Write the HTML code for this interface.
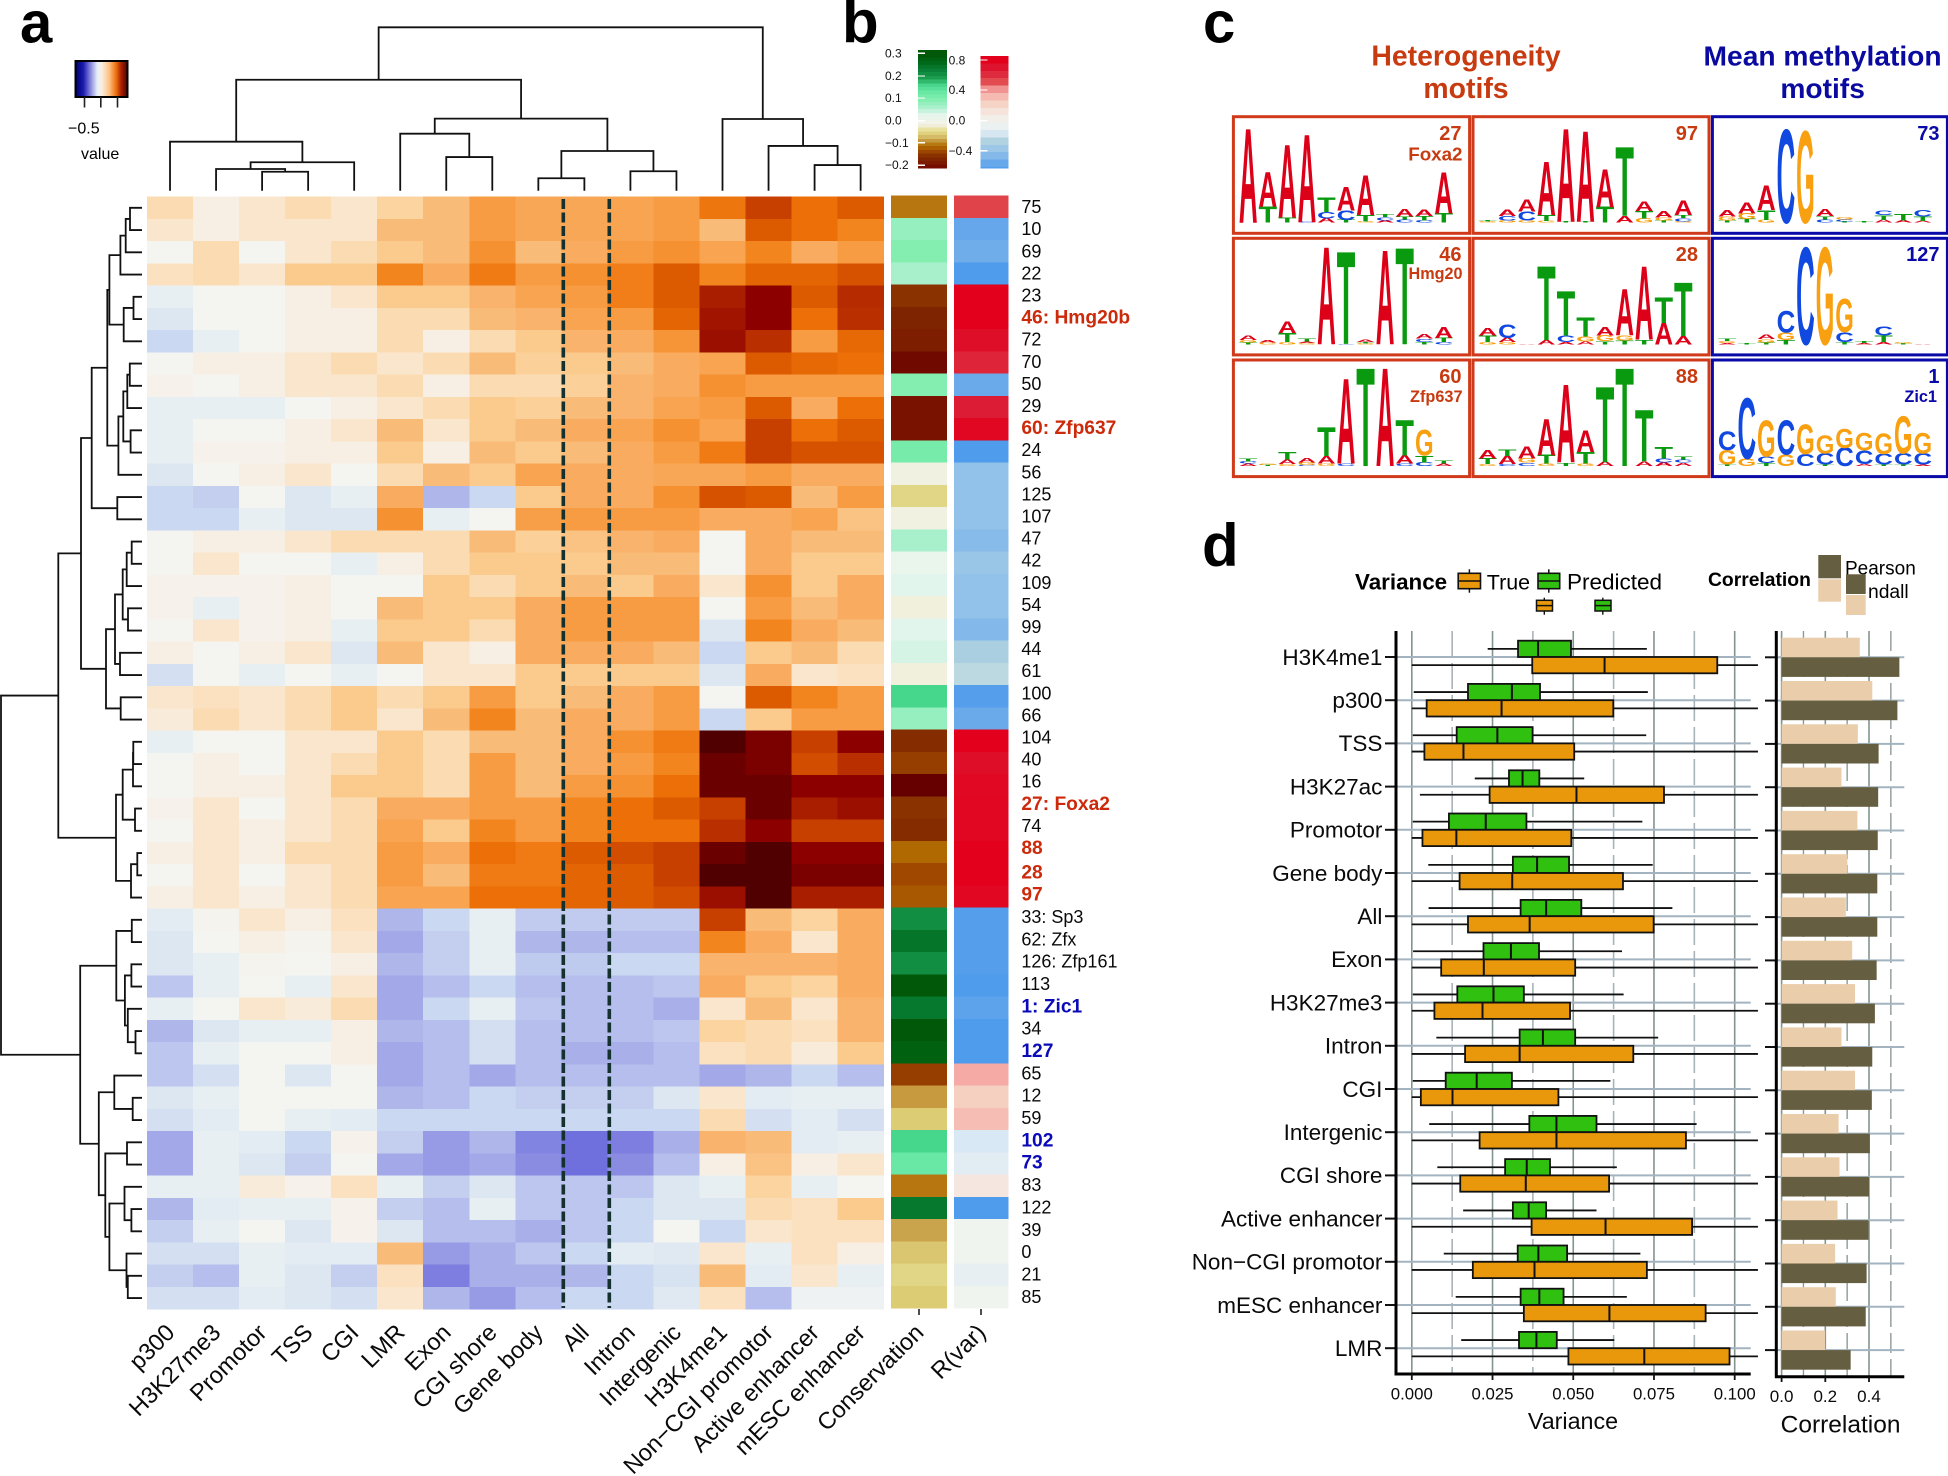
<!DOCTYPE html>
<html lang="en">
<head>
<meta charset="utf-8">
<title>Motif heatmap, sequence logos and variance panels</title>
<style>
html,body{margin:0;padding:0;background:#fff;}
#figure{position:absolute;left:0;top:0;width:1948px;height:1476px;font-family:"Liberation Sans",Arial,sans-serif;}
svg text{font-family:"Liberation Sans",Arial,sans-serif;}
</style>
</head>
<body>
<svg id="figure" xmlns="http://www.w3.org/2000/svg" width="1948" height="1476" viewBox="0 0 1948 1476">
  <rect x="0" y="0" width="1948" height="1476" fill="#ffffff"/>
  <text x="20" y="42.5" font-size="58" font-weight="700">a</text>
  <text x="842" y="42.5" font-size="60" font-weight="700">b</text>
  <text x="1203" y="42.5" font-size="58" font-weight="700">c</text>
  <text x="1202" y="566" font-size="60" font-weight="700">d</text>

  <defs>
    <linearGradient id="valueGradient" x1="0" x2="1" y1="0" y2="0">
      <stop offset="0" stop-color="#00006a"/><stop offset=".15" stop-color="#1a1ab0"/><stop offset=".3" stop-color="#9090e0"/>
      <stop offset=".42" stop-color="#e8f0f5"/><stop offset=".5" stop-color="#f8f0e5"/><stop offset=".65" stop-color="#fcc080"/>
      <stop offset=".78" stop-color="#ee7010"/><stop offset=".88" stop-color="#a82000"/><stop offset="1" stop-color="#500000"/>
    </linearGradient>
    <clipPath id="kendallClip"><rect x="1867" y="575" width="60" height="40"/></clipPath>
  </defs>
  <rect x="75.5" y="61" width="52" height="36" fill="url(#valueGradient)" stroke="#000" stroke-width="2"/>
  <g stroke="#222" stroke-width="1.6">
    <line x1="84.5" x2="84.5" y1="97" y2="107.5"/>
    <line x1="100.8" x2="100.8" y1="97" y2="107.5"/>
    <line x1="117.5" x2="117.5" y1="97" y2="107.5"/>
  </g>
  <text x="68" y="133.5" font-size="16">−0.5</text>
  <text x="81" y="159" font-size="16">value</text>

  <g id="heatmap" shape-rendering="crispEdges"></g>
  <g id="annotBars" shape-rendering="crispEdges"></g>
  <g id="colDendro" fill="none" stroke="#111" stroke-width="1.8"></g>
  <g id="rowDendro" fill="none" stroke="#111" stroke-width="1.8"></g>
  <line x1="563.3" x2="563.3" y1="199" y2="1308" stroke="#14302f" stroke-width="3.6" stroke-dasharray="10 3.5"/>
  <line x1="609.3" x2="609.3" y1="199" y2="1308" stroke="#14302f" stroke-width="3.6" stroke-dasharray="10 3.5"/>
  <g id="rowLabelGroup"></g>
  <g id="colLabelGroup"></g>
  <g id="legendB" shape-rendering="crispEdges"></g>
  <g font-size="12" fill="#111">
    <text x="885" y="57.5">0.3</text>
    <text x="885" y="80">0.2</text>
    <text x="885" y="102">0.1</text>
    <text x="885" y="124.5">0.0</text>
    <text x="885" y="147">−0.1</text>
    <text x="885" y="169">−0.2</text>
    <text x="948.6" y="64.5">0.8</text>
    <text x="948.6" y="94">0.4</text>
    <text x="948.6" y="124.5">0.0</text>
    <text x="948.6" y="155">−0.4</text>
  </g>

  <text x="1466" y="65.5" font-size="28.4" font-weight="700" fill="#c83a10" text-anchor="middle">Heterogeneity</text>
  <text x="1466" y="98" font-size="28.4" font-weight="700" fill="#c83a10" text-anchor="middle">motifs</text>
  <text x="1822.6" y="65.5" font-size="28.2" font-weight="700" fill="#0a0aa0" text-anchor="middle">Mean methylation</text>
  <text x="1822.6" y="98" font-size="28.2" font-weight="700" fill="#0a0aa0" text-anchor="middle">motifs</text>
  <g id="logos"></g>

  <g id="varPanel"></g>
  <g id="corrPanel"></g>

  <g>
    <text x="1355" y="589.5" font-size="22.4" font-weight="700">Variance</text>
    <line x1="1469.4" x2="1469.4" y1="569.3" y2="592.7" stroke="#111" stroke-width="1.5"/>
    <rect x="1458.2" y="573.3" width="22.3" height="15.4" fill="#e8980a" stroke="#111" stroke-width="1.6"/>
    <line x1="1458.2" x2="1480.5" y1="581" y2="581" stroke="#111" stroke-width="1.6"/>
    <text x="1486.8" y="589.5" font-size="21.4">True</text>
    <line x1="1548.8" x2="1548.8" y1="569.3" y2="592.7" stroke="#111" stroke-width="1.5"/>
    <rect x="1538" y="573.3" width="21.7" height="15.4" fill="#2fc010" stroke="#111" stroke-width="1.6"/>
    <line x1="1538" x2="1559.7" y1="581" y2="581" stroke="#111" stroke-width="1.6"/>
    <text x="1567" y="589.5" font-size="22.5">Predicted</text>
    <line x1="1544.3" x2="1544.3" y1="597.7" y2="614.7" stroke="#111" stroke-width="1.4"/>
    <rect x="1536.5" y="600.3" width="16" height="10.7" fill="#e8980a" stroke="#111" stroke-width="1.5"/>
    <line x1="1536.5" x2="1552.5" y1="605.6" y2="605.6" stroke="#111" stroke-width="1.5"/>
    <line x1="1602.8" x2="1602.8" y1="597.7" y2="614.7" stroke="#111" stroke-width="1.4"/>
    <rect x="1595" y="600.3" width="16" height="10.7" fill="#2fc010" stroke="#111" stroke-width="1.5"/>
    <line x1="1595" x2="1611" y1="605.6" y2="605.6" stroke="#111" stroke-width="1.5"/>
  </g>
  <g>
    <text x="1708" y="586" font-size="19.3" font-weight="700">Correlation</text>
    <rect x="1818.3" y="555" width="22.7" height="23.3" fill="#665e40"/>
    <rect x="1818.3" y="579.3" width="22.7" height="22.4" fill="#eacdaa"/>
    <text x="1845" y="574.5" font-size="19">Pearson</text>
    <text x="1844.4" y="598" font-size="19.3" clip-path="url(#kendallClip)">Kendall</text>
    <rect x="1846" y="574.3" width="19.7" height="19.7" fill="#665e40"/>
    <rect x="1846" y="595" width="19.7" height="20" fill="#eacdaa"/>
  </g>
</svg>

<script>
/* ---------- panel a / b data ---------- */
var colNames = ["p300","H3K27me3","Promotor","TSS","CGI","LMR","Exon","CGI shore","Gene body","All","Intron","Intergenic","H3K4me1","Non−CGI promotor","Active enhancer","mESC enhancer"];
var annotNames = ["Conservation","R(var)"];
var rowLabels = ["75","10","69","22","23","46: Hmg20b","72","70","50","29","60: Zfp637","24","56","125","107","47","42","109","54","99","44","61","100","66","104","40","16","27: Foxa2","74","88","28","97","33: Sp3","62: Zfx","126: Zfp161","113","1: Zic1","34","127","65","12","59","102","73","83","122","39","0","21","85"];
var redLabels = ["46: Hmg20b","60: Zfp637","27: Foxa2","88","28","97"];
var blueLabels = ["1: Zic1","127","102","73"];
var heatValues = [
[3,1,2,3,2,3.5,5,7,6.3,6.3,6.5,7,8.7,11,9,10],
[2,1,2,2,2,5,5,7,6.3,6.3,6.5,7,5,10,9,8],
[0,3,0,2,3,4,5,7.5,5,6,7,7.5,6.5,8,6,7],
[2.5,3,2,4,4,8,6,8.5,7,7.5,8.3,10,8,9.5,9.5,10.3],
[-1,0,0,1,2,4,4,5.5,6.5,7,8.3,10,12,13,10,11.6],
[-2,0,0,1,1,3,3,5,5.5,6.5,7,9.5,12.3,13,9,11.5],
[-3,-1,0,1,1,3,1,3,4,5.5,6,7.3,12.5,11.5,7,9.3],
[0,1,1,2,3,2,3,5,3.7,4,5,6,6.5,10,9.3,9],
[0.5,0,1,2,2,3,1,3,3,3.7,5.5,6,7.5,7,7,7],
[-1,-1,-1,0,1,2,3,4,3.7,5,5.5,6.5,7,10,6,9],
[-1,0,0,1,2,5,2,4,5,6,6.5,7.5,6.5,11,9,10],
[-1,0.5,0.5,1,1,4,1,5,4,5,6,7,8.5,11,10.3,10.3],
[-2,0,1,2,0,3,5,4,6.5,6,6,6.3,6.3,7,6,6],
[-3,-3.5,0,-2,-1,6,-5,-3,4,6,6,7.5,10.3,10,5,7],
[-3,-3,-1,-2,-2,7.5,-1,0,6.8,7,7,7,6,6,6.5,4.5],
[0,1,1,2,3,3,3,5,3.7,4.5,5.5,6,0,6,5,5],
[0,2,0,0,-1,1,3,4,4,4,5,5,0,6,4,4],
[0.5,0.5,0.5,1,0,0,4,3,4,5,4,6,2,7.5,4,6],
[0.5,-1,0.5,1,0,5,4,4,6,7,7,7,0,7,5,6],
[0,2,0.5,1,-1,4,4,3,6,7,7,7,-2,8,6,5],
[1,0,1,2,-2,5,2,1,6,6,6,5,-3,4,5,3],
[-2.5,0,-1,0,-1,0,2,2,4,4,4,4,-2,6,2,2.5],
[2,2.5,2,3,4,3,4,7,4,5,6,7,0,10,8,7],
[1.5,3,2,3,4,2,5,8,5,6,6,7,-3,4,7,7],
[-1,0,0,2,2,4,3,5,5,6,7.5,8.5,15,13.5,11,13],
[0,1,0,2,3,4,3,7,5,6,7,8,14,13.5,10.5,11.5],
[0,1,1,2,4,4,3,7,5,7,7.5,9,14,14,13,13],
[0.5,2,0,2,3,6,6,7,7,8,9,10,11,14,12,12.5],
[0,2,1,2,3,6.5,4,8,7,8,9,9,11.5,13,11,11],
[1,2,1,3,3,7,6,9,8.5,10,10.5,11,14,15,13,13],
[0,2,0,2,3,7,5,8.5,8.5,9.5,10,11,15,15,13.5,13.5],
[1,2,1,2,3,6.5,6.5,9,9,9.5,10,10.5,12.5,15,12,12],
[-1.5,0.3,2,1,2.5,-5,-3,-1,-3.7,-3.7,-3.7,-3.7,11,5,3.5,6],
[-2,0,1,0.3,2,-6,-3.5,-1,-5,-5,-4.5,-4.5,8,6,2,6],
[-2,-1,0.3,0,1,-5,-3.5,-1,-3.8,-3.8,-3,-3,5.5,5.5,5.5,6],
[-4,-1,0,-1,2,-6,-4.5,-3,-4.5,-4.5,-4.5,-4,6,4,3.5,6],
[-1,0,2,1.5,3,-6,-3,-1,-4,-4.5,-4.5,-5.5,2,5,2,5.5],
[-5,-2,-1,-1,1,-5,-4.5,-2.5,-4.5,-4.5,-4.5,-4,3.5,3,2.5,5.5],
[-4,-1,0,0,1,-6,-4.5,-2.5,-4.5,-5.5,-5.5,-4.5,2.5,3,1.5,4],
[-4,-2.5,0,-2,0,-6,-4.5,-6,-4.5,-4.5,-4.5,-4.5,-6,-5,-3,-4.5],
[-2,-1,0,0,0,-5,-4.5,-3,-3.5,-3.5,-3.5,-2,2,-1.5,-1,-1],
[-2.5,-1.5,0,-1,-1.5,-3,-3,-3,-3,-3,-3,-3,3,-2.5,-1.5,-2.5],
[-6,-1,-1.5,-3,0.5,-3.5,-6.5,-5,-7.3,-8,-7.5,-5.5,5.5,5,-1.5,-1],
[-6,-1,-2,-3.5,0,-6,-6.5,-6,-7,-8,-7,-4.5,1,4.5,1,2],
[-1,-1,1.5,0.5,2.5,-1,-3.5,-2,-4,-4,-4,-2,-1,3.5,-1,0],
[-5,-1.5,-1,-1,0.5,-3.5,-4.5,-1,-4,-4,-3,-2,-2,3,2.5,4],
[-3.5,-1,0,-2,0.5,-2,-4.5,-4.5,-5.5,-4,-3,0,-3,2,2.5,2.5],
[-2.5,-2.5,-1,-1.5,-1.5,5,-6.5,-5.5,-4,-3,-1.5,-1.7,2,-1,2.5,1],
[-3.5,-4.5,-1,-2,-3.5,2.5,-7.5,-5.5,-5.5,-5,-3,-2.3,5,-1.5,2,-1],
[-2.5,-2.5,-1.5,-2,-2.5,2,-5,-6.5,-4.5,-3,-3,-1.7,2.5,-4.5,-0.5,-0.5]
];
var conservation = [-5.5,2.5,3,2,-8,-9,-9.5,-11,3,-10.5,-10.5,3.5,-0.5,-2.5,-0.5,2,0.5,1,-0.7,1,1.2,-0.7,5,2.5,-8.5,-7.5,-11.5,-8,-8.5,-6,-7,-6.5,6.5,7.5,6.5,9,7.3,9.5,8.5,-7.5,-4.5,-3,5,4,-5.5,7.3,-4.3,-3.2,-2.5,-3];
var rVar = [4,-4.2,-3.9,-5,6,6,5.5,4.8,-4,5,5.8,-5,-3,-3,-3,-3.3,-2.7,-3,-3,-3.4,-2,-1.5,-4.8,-4,6,5.5,5.7,5.8,5.8,6,6,5.8,-4.8,-4.8,-4.8,-5,-4.5,-5,-5,3,2,2.5,-1,-0.7,1,-5,0,0,-0.5,0];

/* Dendrograms: [mergeHeight, childA, childB]; leaves are column / row indices */
var colTree = [1,[.679,[.30,0,[.174,[.133,1,[.116,2,3]],4]],[.441,[.349,5,[.206,6,7]],[.243,[.076,8,9],[.119,10,11]]]],[.439,12,[.274,13,[.157,14,15]]]];
var rowTopA = [.326,[.216,[.163,[.12,0,1],2],3],[.183,[.085,4,5],6]];
var rowTopB = [.236,[.187,[.147,[.122,7,8],9],[.114,10,11]],12];
var rowTopC = [.247,13,14];
var rowMid = [.36,[.27,[.193,[.153,[.103,15,16],17],[.14,18,19]],[.22,20,21]],[.213,22,23]];
var rowHigh = [.26,[.193,[.09,[.087,24,25],26],[.07,27,28]],[.11,[.047,29,30],31]];
var rowLowA = [.257,[.102,32,33],[.171,[.106,34,35],[.142,36,[.065,37,38]]]];
var rowLowB = [.432,[.277,39,[.093,40,41]],[.367,[.15,42,43],[.326,[.175,44,[.106,45,46]],[.155,47,[.142,48,49]]]]];
var rowTree = [1.41,[.837,[.61,[.503,[.347,rowTopA,rowTopB],rowTopC],rowMid],rowHigh],[.618,rowLowA,rowLowB]];

/* ---------- panel c data: each position lists letter, bits from top to bottom ---------- */
var motif27 = [["A",2],["A",.74,"T",.34],["A",1.55,"T",.11],["A",1.86,"C",.02],["T",.32,"C",.14,"A",.09],["A",.51,"C",.2,"T",.06],["A",.85,"T",.14,"G",.03],["T",.07,"C",.07,"A",.05],["A",.16,"T",.06,"C",.07],["A",.13,"T",.09,"C",.05],["A",.87,"T",.2]];
var motif97 = [["T",.03,"G",.03],["A",.13,"C",.09,"G",.05],["A",.26,"C",.19,"G",.05],["A",1.14,"T",.12,"G",.04],["A",1.98,"T",.02],["A",1.93,"T",.02],["A",.8,"T",.34],["T",1.46,"A",.14],["A",.2,"T",.16,"G",.09],["A",.14,"G",.06,"T",.05],["A",.32,"T",.07,"C",.07,"G",.03]];
var motif73 = [["A",.13,"G",.08,"T",.05],["A",.23,"G",.12,"T",.08],["A",.52,"T",.21,"G",.06],["C",1.98],["G",1.95],["A",.15,"T",.07,"C",.07],["G",.05,"C",.04,"T",.03],["T",.02],["C",.1,"T",.1,"A",.06],["T",.13,"A",.05],["C",.13,"T",.09,"A",.04]];
var motif46 = [["A",.09,"G",.05,"T",.04],["A",.05,"G",.04],["A",.24,"T",.19,"G",.05],["T",.07,"A",.03,"G",.03],["A",2.07],["T",1.96,"C",.01],["A",.05,"T",.03,"G",.02],["A",2],["T",2.05],["A",.1,"C",.07,"T",.05],["A",.23,"T",.09,"C",.05]];
var motif28 = [["A",.16,"T",.14,"G",.05],["C",.28,"A",.09,"G",.05],["A",.01],["T",1.58,"A",.09],["T",.95,"C",.14,"A",.05],["T",.41,"G",.11,"A",.06],["A",.18,"G",.12,"T",.07],["A",.98,"G",.11,"T",.08],["A",1.56,"T",.1],["T",.54,"A",.46],["T",1.14,"A",.18]];
var motif127 = [["T",.05,"G",.04,"A",.03],["T",.02],["A",.1,"G",.07,"T",.04],["C",.47,"G",.16,"T",.09],["C",2.06],["G",2.06],["G",.71,"C",.21,"T",.05],["T",.04,"A",.03],["C",.19,"T",.14,"A",.05],["G",.03,"T",.02],["A",.01]];
var motif60 = [["T",.07,"C",.05,"A",.05],["G",.03,"T",.02],["T",.16,"A",.1,"G",.04],["A",.09,"G",.06,"C",.02],["T",.61,"A",.16,"G",.05],["A",1.8,"C",.05],["T",2.08],["A",2.08],["T",.75,"A",.18,"C",.05],["G",.55,"T",.14,"C",.08],["T",.06,"A",.05]];
var motif88 = [["A",.18,"T",.12,"G",.04],["T",.14,"A",.17,"C",.04],["A",.26,"G",.09,"C",.07],["A",.76,"T",.19,"G",.05],["A",1.65,"T",.07],["A",.46,"T",.25,"G",.05],["T",1.6,"A",.09],["T",2.08],["T",1.1,"A",.1],["T",.25,"C",.08,"A",.08],["T",.07,"C",.07,"A",.07]];
var motif1 = [["C",.4,"G",.31,"T",.03],["C",1.28,"G",.16],["G",.76,"C",.14,"T",.06],["C",.73,"G",.25],["G",.63,"C",.26],["G",.38,"C",.24,"T",.03],["G",.41,"C",.39],["G",.37,"C",.29,"A",.04],["G",.43,"C",.23,"T",.03],["G",.79,"C",.24,"T",.03],["G",.43,"C",.24,"A",.03]];
var motifGrid = [motif27,motif97,motif73,motif46,motif28,motif127,motif60,motif88,motif1];
var motifIds = ["27","97","73","46","28","127","60","88","1"];
var motifNames = ["Foxa2","","","Hmg20","","","Zfp637","","Zic1"];

/* ---------- panel d data ---------- */
var varCategories = ["H3K4me1","p300","TSS","H3K27ac","Promotor","Gene body","All","Exon","H3K27me3","Intron","CGI","Intergenic","CGI shore","Active enhancer","Non−CGI promotor","mESC enhancer","LMR"];
var predLow = [.0235,.0006,.0003,.0195,.0003,.0051,.0052,.0004,.0003,.0076,.0003,.0054,.0079,.0159,.0099,.0136,.0153];
var predQ1 = [.0329,.0174,.0139,.0301,.0115,.0313,.0337,.0222,.0141,.0334,.0105,.0364,.0289,.0313,.0328,.0337,.0332];
var predMed = [.0391,.031,.0265,.0343,.0229,.0388,.0416,.0307,.0253,.0406,.0201,.0448,.0356,.0362,.0392,.0395,.0386];
var predQ3 = [.0493,.0397,.0374,.0395,.0355,.0487,.0525,.0394,.0347,.0506,.031,.0572,.0428,.0416,.0481,.047,.0449];
var predHigh = [.0728,.0731,.0726,.0534,.0714,.0746,.0807,.0651,.0656,.0763,.0615,.0882,.0635,.0572,.0708,.0666,.0627];
var trueLow = [0,0,0,.0025,0,0,0,0,0,0,0,0,0,0,0,0,0];
var trueQ1 = [.0373,.0046,.0039,.0241,.0033,.0148,.0174,.0091,.007,.0165,.0028,.021,.015,.0371,.0189,.0347,.0485];
var trueMed = [.0597,.0278,.016,.051,.0138,.0311,.0365,.0223,.0219,.0334,.0126,.0448,.0353,.06,.038,.0612,.072];
var trueQ3 = [.0946,.0624,.0503,.0781,.0494,.0654,.0749,.0506,.049,.0686,.0454,.0849,.0611,.0868,.0728,.091,.0984];
var trueHigh = [.1072,.1072,.1072,.1072,.1072,.1072,.1072,.1072,.1072,.1072,.1072,.1072,.1072,.1072,.1072,.1072,.1072];
var pearson = [.358,.415,.349,.274,.347,.301,.294,.323,.336,.274,.336,.261,.265,.256,.245,.248,.199];
var kendall = [.539,.53,.444,.442,.44,.438,.438,.435,.427,.415,.413,.404,.4,.398,.389,.385,.316];
var varTicks = [0,.025,.05,.075,.1];
var varMinorTicks = [.0125,.0375,.0625,.0875];
var corrTicks = [0,.2,.4];
var corrMinorTicks = [.1,.3,.5];

/* ---------- helpers ---------- */
var NS = "http://www.w3.org/2000/svg";
function mk(tag, parent, attrs) {
  var el = document.createElementNS(NS, tag);
  for (var k in attrs) el.setAttribute(k, attrs[k]);
  parent.appendChild(el);
  return el;
}
function txt(parent, str, x, y, size, attrs) {
  var el = mk("text", parent, attrs || {});
  el.setAttribute("x", x);
  el.setAttribute("y", y);
  el.setAttribute("font-size", size);
  el.textContent = str;
  return el;
}
function hex(c) { return [parseInt(c.substr(1,2),16),parseInt(c.substr(3,2),16),parseInt(c.substr(5,2),16)]; }
function ramp(stops, v) {
  if (v <= stops[0][0]) return stops[0][1];
  for (var i = 1; i < stops.length; i++) {
    if (v <= stops[i][0]) {
      var t = (v - stops[i-1][0]) / (stops[i][0] - stops[i-1][0]);
      var a = hex(stops[i-1][1]), b = hex(stops[i][1]);
      return "rgb(" + Math.round(a[0]+(b[0]-a[0])*t) + "," + Math.round(a[1]+(b[1]-a[1])*t) + "," + Math.round(a[2]+(b[2]-a[2])*t) + ")";
    }
  }
  return stops[stops.length-1][1];
}
var heatScale = [[-8,"#6f70dd"],[-7,"#8a8ce2"],[-6,"#a3a8e8"],[-5,"#aeb6ea"],[-4,"#bcc6ee"],[-3,"#cbd8f1"],[-2,"#dde7f2"],[-1,"#e8eff3"],[0,"#f4f5f1"],[1,"#f8efe4"],[2,"#fae6cd"],[3,"#fbdcb2"],[4,"#fbcb8e"],[5,"#f9bb78"],[6,"#f9ab5f"],[7,"#f79c42"],[8,"#f3851f"],[9,"#ec6f08"],[10,"#dc5a00"],[11,"#c84000"],[12,"#aa1e00"],[13,"#8c0000"],[14,"#6a0000"],[15,"#500000"]];
var consScale = [[-11.5,"#660000"],[-10.5,"#7a1200"],[-9,"#7f2400"],[-8,"#8a3300"],[-7,"#a04800"],[-6,"#b06800"],[-5,"#bd8420"],[-4,"#d0b060"],[-3,"#dccc74"],[-2,"#e6df96"],[-1,"#f0eed8"],[0,"#f2f4ea"],[1,"#e2f5ec"],[2,"#a8f0cc"],[3,"#84eeb0"],[4,"#68e8a4"],[5,"#46d68c"],[6,"#1a9c4c"],[7,"#0a8038"],[8,"#006a1a"],[9,"#005808"]];
var rScale = [[-5,"#4f9bec"],[-4,"#6aaaea"],[-3,"#92c2ea"],[-2,"#aacfe0"],[-1.5,"#bcd8e0"],[-1,"#d8e8f4"],[-0.5,"#e8eff2"],[0,"#eff4ef"],[1,"#f6e6e0"],[2,"#f5cfc0"],[3,"#f5aaa6"],[4,"#e0444a"],[5,"#dc1c34"],[6,"#e2001c"]];

/* ---------- axes for the heatmap ---------- */
var heatLeft = 147, colW = 46.04, heatTop = 196.7, rowH = 22.25;
function colX(i) { return heatLeft + colW * i; }
function rowY(i) { return heatTop + rowH * i; }
function labelY(i) { return i < 30 ? 206.7 + 22.1 * i : 916.6 + 22.34 * (i - 32); }
function colDendroY(h) { return 190.7 - 163.4 * h; }
function rowDendroX(h) { return 142 - 100 * h; }

var heatmapG = document.getElementById("heatmap");
heatValues.forEach(function (row, r) {
  row.forEach(function (v, c) {
    var cell = mk("rect", heatmapG, {x: colX(c), y: rowY(r), width: colW + .5, height: rowH + .5, fill: ramp(heatScale, v)});
    
    
  });
});

var annotG = document.getElementById("annotBars");
conservation.forEach(function (v, r) {
  var cell = mk("rect", annotG, {x: 891, y: rowY(r) - 1, width: 56, height: rowH + .5, fill: ramp(consScale, v)});
  
  
});
rVar.forEach(function (v, r) {
  var cell = mk("rect", annotG, {x: 954, y: rowY(r) - 1, width: 54.6, height: rowH + .5, fill: ramp(rScale, v)});
  
  
});

/* dendrograms */
var colG = document.getElementById("colDendro");
function drawCol(node) {
  if (typeof node === "number") return {p: colX(node) + colW / 2, h: 0};
  var a = drawCol(node[1]), b = drawCol(node[2]), y = colDendroY(node[0]);
  var link = mk("path", colG, {d: "M" + a.p + " " + colDendroY(a.h) + "V" + y + "H" + b.p + "V" + colDendroY(b.h)});
  
  
  return {p: (a.p + b.p) / 2, h: node[0]};
}
drawCol(colTree);
var rowG = document.getElementById("rowDendro");
function drawRow(node) {
  if (typeof node === "number") return {p: rowY(node) + rowH / 2, h: 0};
  var a = drawRow(node[1]), b = drawRow(node[2]), x = rowDendroX(node[0]);
  var link = mk("path", rowG, {d: "M" + rowDendroX(a.h) + " " + a.p + "H" + x + "V" + b.p + "H" + rowDendroX(b.h)});
  
  
  return {p: (a.p + b.p) / 2, h: node[0]};
}
drawRow(rowTree);

/* row labels */
var rowLabelG = document.getElementById("rowLabelGroup");
rowLabels.forEach(function (s, i) {
  var isRed = redLabels.indexOf(s) >= 0, isBlue = blueLabels.indexOf(s) >= 0;
  var fill = isRed ? "#cc2a0a" : isBlue ? "#0a0ab8" : "#0a0a0a";
  var t = txt(rowLabelG, s, 1021.4, labelY(i) + 6.4, (isRed || isBlue) ? 19.2 : 18, {fill: fill, "font-weight": (isRed || isBlue) ? 700 : 400});
  
  
});

/* column labels */
var colLabelG = document.getElementById("colLabelGroup");
function rotatedLabel(s, cx) {
  var ax = cx + 6, ay = 1334;
  var t = txt(colLabelG, s, ax, ay, 23.6, {"text-anchor": "end", fill: "#0a0a0a", transform: "rotate(-45 " + ax + " " + ay + ")"});
  
  
}
colNames.forEach(function (s, i) { rotatedLabel(s, colX(i) + colW / 2); });
var annotCenters = [919, 981];
annotNames.forEach(function (s, i) {
  rotatedLabel(s, annotCenters[i]);
  var tick = mk("line", colLabelG, {x1: annotCenters[i], x2: annotCenters[i], y1: 1309, y2: 1315, stroke: "#222", "stroke-width": 1.6});
  
  
});

/* panel b colour legends, sampled from the colour scales */
var legendG = document.getElementById("legendB");
for (var yy = 50; yy < 168; yy += 3.7) {
  var cv = yy < 120 ? 9.5 * (120 - yy) / 70 : -11.5 * (yy - 120) / 48;
  var band = mk("rect", legendG, {x: 918, y: yy, width: 29, height: Math.min(4, 168.3 - yy), fill: ramp(consScale, cv)});
  
  
}
for (var yr = 56; yr < 168; yr += 7.4) {
  var rv = yr < 120 ? 6 * (120 - yr) / 64 : -5 * (yr - 120) / 48;
  var rband = mk("rect", legendG, {x: 980.4, y: yr, width: 28.2, height: Math.min(7.6, 168.3 - yr), fill: ramp(rScale, rv)});
  
  
}
[52.7,75.3,97.3,120,142,164.7].forEach(function (y) {
  var m = mk("rect", legendG, {x: 918, y: y, width: 7, height: 1.3, fill: "#fff"});
  
  
});
[59.3,89.3,120,150].forEach(function (y) {
  var m = mk("rect", legendG, {x: 980.4, y: y, width: 7, height: 1.3, fill: "#fff"});
  
  
});

/* ---------- panel c: logos ---------- */
var letterColor = {A: "#dc0018", T: "#0a9a10", C: "#1048e0", G: "#f8a010"};
var letterAdvance = {A: .722, T: .611, C: .722, G: .778};
var bitPx = 46.67, logoStep = 19.56, letterW = 18.6;
var logoG = document.getElementById("logos");
var boxLeft = [1233.4, 1473, 1712.4], boxTop = [116.7, 238.3, 360], boxW = [236.2, 236, 235], boxH = 116.6;
var logoBaseline = [222.7, 344.3, 466], logoStart = [1248.2, 1487.7, 1727.2];
var idRight = [1461.5, 1698, 1939.5];
var idCenterY = [132.7, 254, 376];
var nameCenterY = [154.3, 273, 396];
var nameSize = [18.8, 16.2, 16.3];
motifGrid.forEach(function (motif, m) {
  var col = m % 3, row = Math.floor(m / 3);
  var isBlue = col === 2;
  var frame = mk("rect", logoG, {x: boxLeft[col], y: boxTop[row], width: boxW[col], height: boxH, fill: "#fff", stroke: isBlue ? "#0a0aa8" : "#d03a1a", "stroke-width": 3});
  
  
  motif.forEach(function (stack, p) {
    var cx = logoStart[col] + logoStep * p;
    var y = logoBaseline[row];
    for (var k = stack.length - 2; k >= 0; k -= 2) {
      var ch = stack[k], bits = stack[k + 1], hpx = bits * bitPx;
      var sx = letterW / (letterAdvance[ch] * 100), sy = hpx / 68.8;
      var g = txt(logoG, ch, 0, 0, 100, {"font-weight": 700, "text-anchor": "middle", fill: letterColor[ch], transform: "translate(" + cx + " " + y + ") scale(" + sx.toFixed(4) + " " + sy.toFixed(4) + ")"});
      
      
      y -= hpx;
    }
  });
  var labelFill = isBlue ? "#0a0aa8" : "#c83a10";
  var idText = txt(logoG, motifIds[m], idRight[col], idCenterY[row] + 7.2, 20, {"font-weight": 700, "text-anchor": "end", fill: labelFill});
  
  
  if (motifNames[m]) {
    var nameText = txt(logoG, motifNames[m], idRight[col] + 1 - (isBlue ? 3.5 : 0), nameCenterY[row] + 6, nameSize[row], {"font-weight": 700, "text-anchor": "end", fill: labelFill});
    
    
  }
});

/* ---------- panel d ---------- */
function varX(v) { return 1411.8 + v * 3229; }
function varCatY(i) { return 657 + 43.2 * i; }
function corrX(v) { return 1781.6 + v * 218.5; }
function corrCatY(i) { return 657.3 + 43.3 * i; }

var varG = document.getElementById("varPanel");
varMinorTicks.forEach(function (t) {
  var l = mk("line", varG, {x1: varX(t), x2: varX(t), y1: 631, y2: 1374, stroke: "#a8b4b8", "stroke-width": 1.6, "stroke-dasharray": "26 6"});
  
  
});
varTicks.forEach(function (t) {
  var l = mk("line", varG, {x1: varX(t), x2: varX(t), y1: 631, y2: 1374, stroke: "#83948f", "stroke-width": 1.6});
  
  
});
varCategories.forEach(function (c, i) {
  var l = mk("line", varG, {x1: 1396, x2: 1750.7, y1: varCatY(i), y2: varCatY(i), stroke: "#a3b4c0", "stroke-width": 2});
  
  
});
function boxMark(i, low, q1, med, q3, high, top, fill, name) {
  var mid = top + 8.15;
  var wh = mk("line", varG, {x1: varX(low), x2: varX(high), y1: mid, y2: mid, stroke: "#111", "stroke-width": 1.8});
  
  
  var bx = mk("rect", varG, {x: varX(q1), y: top, width: varX(q3) - varX(q1), height: 16.3, fill: fill, stroke: "#111", "stroke-width": 1.8});
  
  
  var md = mk("line", varG, {x1: varX(med), x2: varX(med), y1: top, y2: top + 16.3, stroke: "#111", "stroke-width": 2});
  
  
}
varCategories.forEach(function (c, i) {
  var y = varCatY(i);
  boxMark(i, predLow[i], predQ1[i], predMed[i], predQ3[i], predHigh[i], y - 16.3, "#2fc010", "predicted");
  boxMark(i, trueLow[i], trueQ1[i], trueMed[i], trueQ3[i], trueHigh[i], y, "#e8980a", "true");
  var tk = mk("line", varG, {x1: 1385, x2: 1396, y1: y, y2: y, stroke: "#111", "stroke-width": 2});
  
  
  var lb = txt(varG, c, 1382.4, y + 7.8, 22.5, {"text-anchor": "end", fill: "#0a0a0a"});
  
  
});
var leftAxis = mk("line", varG, {x1: 1396, x2: 1396, y1: 631, y2: 1375.5, stroke: "#000", "stroke-width": 3});


var bottomAxis = mk("line", varG, {x1: 1394.5, x2: 1750.7, y1: 1374, y2: 1374, stroke: "#000", "stroke-width": 3});


varTicks.forEach(function (t) {
  var k = mk("line", varG, {x1: varX(t), x2: varX(t), y1: 1374, y2: 1380, stroke: "#111", "stroke-width": 1.8});
  
  
  var lb = txt(varG, t.toFixed(3), varX(t), 1399.7, 16.8, {"text-anchor": "middle", fill: "#0a0a0a"});
  
  
});
var varTitle = txt(varG, "Variance", 1573, 1429, 23.3, {"text-anchor": "middle", fill: "#0a0a0a"});



var corrG = document.getElementById("corrPanel");
corrMinorTicks.forEach(function (t) {
  var l = mk("line", corrG, {x1: corrX(t), x2: corrX(t), y1: 631, y2: 1376, stroke: "#8d9a9a", "stroke-width": 1.4, "stroke-dasharray": "20 6"});
  
  
});
corrTicks.forEach(function (t) {
  var l = mk("line", corrG, {x1: corrX(t), x2: corrX(t), y1: 631, y2: 1376, stroke: "#83948f", "stroke-width": 1.6});
  
  
});
varCategories.forEach(function (c, i) {
  var y = corrCatY(i);
  var l = mk("line", corrG, {x1: 1776, x2: 1904.3, y1: y, y2: y, stroke: "#a3b4c0", "stroke-width": 2});
  
  
  var pb = mk("rect", corrG, {x: corrX(0), y: y - 19.6, width: corrX(pearson[i]) - corrX(0), height: 19.6, fill: "#eacdaa"});
  
  
  var kb = mk("rect", corrG, {x: corrX(0), y: y, width: corrX(kendall[i]) - corrX(0), height: 19.6, fill: "#665e40"});
  
  
  var tk = mk("line", corrG, {x1: 1765, x2: 1776, y1: y, y2: y, stroke: "#111", "stroke-width": 2});
  
  
});
var corrAxis = mk("line", corrG, {x1: 1776.3, x2: 1776.3, y1: 631, y2: 1378, stroke: "#000", "stroke-width": 3});


var corrBottom = mk("line", corrG, {x1: 1775, x2: 1904.3, y1: 1376.7, y2: 1376.7, stroke: "#000", "stroke-width": 3});


corrTicks.forEach(function (t) {
  var k = mk("line", corrG, {x1: corrX(t), x2: corrX(t), y1: 1376.7, y2: 1382, stroke: "#111", "stroke-width": 1.8});
  
  
  var lb = txt(corrG, t.toFixed(1), corrX(t), 1402, 17, {"text-anchor": "middle", fill: "#0a0a0a"});
  
  
});
var corrTitle = txt(corrG, "Correlation", 1840.6, 1432.5, 24.5, {"text-anchor": "middle", fill: "#0a0a0a"});


</script>
</body>
</html>
